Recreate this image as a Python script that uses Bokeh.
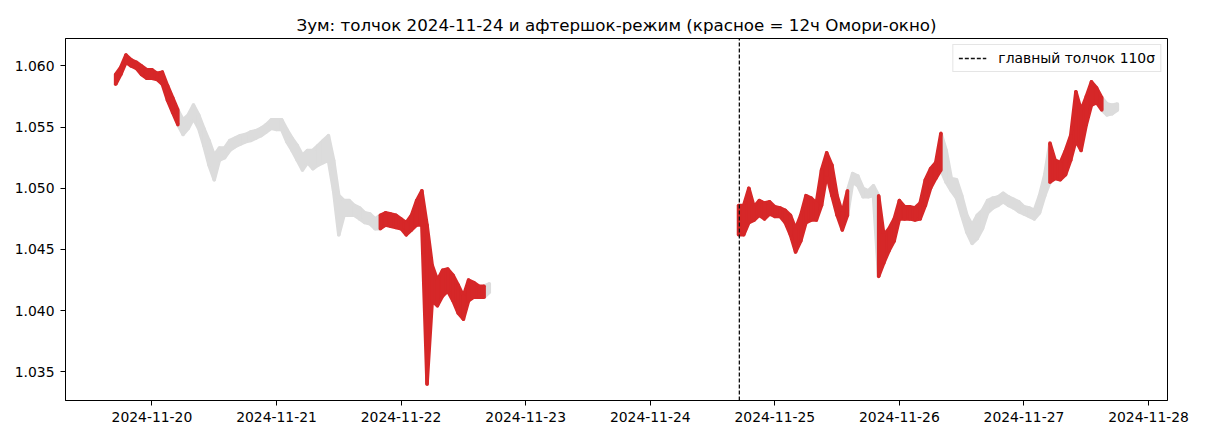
import numpy as np
import pandas as pd
from bokeh.plotting import figure
from bokeh.models import (Range1d, Legend, LegendItem, DatetimeTicker,
                          DaysTicker, DatetimeTickFormatter, FixedTicker,
                          NumeralTickFormatter, ColumnDataSource)
from bokeh.embed import file_html
from bokeh.resources import INLINE

TITLE = 'Зум: толчок 2024-11-24 и афтершок-режим (красное = 12ч Омори-окно)'
SHOCK_LABEL = 'главный толчок 110σ'
SHOCK_TIME = '2024-11-24 17:10'

# hourly high / low of the price, first block (from 2024-11-19 17:00)
seg1_start = '2024-11-19 17:00'
seg1_hi = [1.0593, 1.0599, 1.0609, 1.0605, 1.0603, 1.0600, 1.0597, 1.0597, 1.0594, 1.0595,
           1.0584, 1.0574, 1.0564, 1.0556, 1.0560, 1.0568, 1.0560, 1.0549, 1.0539, 1.0527,
           1.0533, 1.0533, 1.0539, 1.0541, 1.0543, 1.0544, 1.0546, 1.0547, 1.0549, 1.0552,
           1.0556, 1.0556, 1.0556, 1.0548, 1.0541, 1.0535, 1.0527, 1.0531, 1.0531, 1.0535,
           1.0539, 1.0543, 1.0523, 1.0494, 1.0490, 1.0490, 1.0486, 1.0484, 1.0480, 1.0479,
           1.0475, 1.0478, 1.0480, 1.0479, 1.0478, 1.0475, 1.0472, 1.0478, 1.0490, 1.0498,
           1.0470, 1.0437, 1.0425, 1.0433, 1.0434, 1.0429, 1.0421, 1.0412, 1.0425, 1.0423,
           1.0420, 1.0420, 1.0422]
seg1_lo = [1.0585, 1.0593, 1.0603, 1.0600, 1.0598, 1.0593, 1.0590, 1.0590, 1.0589, 1.0585,
           1.0572, 1.0562, 1.0552, 1.0544, 1.0549, 1.0557, 1.0549, 1.0535, 1.0519, 1.0507,
           1.0523, 1.0525, 1.0531, 1.0534, 1.0536, 1.0538, 1.0539, 1.0541, 1.0543, 1.0546,
           1.0549, 1.0548, 1.0548, 1.0538, 1.0531, 1.0523, 1.0515, 1.0521, 1.0516, 1.0519,
           1.0521, 1.0523, 1.0498, 1.0462, 1.0478, 1.0478, 1.0478, 1.0475, 1.0472, 1.0471,
           1.0467, 1.0467, 1.0470, 1.0469, 1.0468, 1.0467, 1.0462, 1.0466, 1.0470, 1.0470,
           1.0340, 1.0408, 1.0404, 1.0412, 1.0416, 1.0408, 1.0398, 1.0393, 1.0408, 1.0411,
           1.0411, 1.0411, 1.0415]
# 1 = inside the 12h Omori window
seg1_red = [1, 1, 1, 1, 1, 1, 1, 1, 1, 1, 1, 1, 1, 0, 0, 0, 0, 0, 0, 0,
            0, 0, 0, 0, 0, 0, 0, 0, 0, 0, 0, 0, 0, 0, 0, 0, 0, 0, 0, 0,
            0, 0, 0, 0, 0, 0, 0, 0, 0, 0, 0, 1, 1, 1, 1, 1, 1, 1, 1, 1,
            1, 1, 1, 1, 1, 1, 1, 1, 1, 1, 1, 1, 0]

# second block (from 2024-11-24 17:00)
seg2_start = '2024-11-24 17:00'
seg2_hi = [1.0486, 1.0486, 1.0500, 1.0485, 1.0490, 1.0488, 1.0489, 1.0485, 1.0484, 1.0482,
           1.0478, 1.0467, 1.0478, 1.0494, 1.0492, 1.0488, 1.0515, 1.0529, 1.0519, 1.0494,
           1.0480, 1.0498, 1.0512, 1.0510, 1.0500, 1.0498, 1.0502, 1.0494, 1.0462, 1.0467,
           1.0475, 1.0490, 1.0485, 1.0485, 1.0484, 1.0488, 1.0507, 1.0516, 1.0521, 1.0545,
           1.0531, 1.0508, 1.0507, 1.0494, 1.0478, 1.0470, 1.0478, 1.0482, 1.0490, 1.0492,
           1.0493, 1.0496, 1.0493, 1.0491, 1.0489, 1.0485, 1.0484, 1.0482, 1.0494, 1.0511,
           1.0537, 1.0523, 1.0521, 1.0531, 1.0543, 1.0579, 1.0564, 1.0575, 1.0587, 1.0582,
           1.0574, 1.0569, 1.0568, 1.0569]
seg2_lo = [1.0462, 1.0462, 1.0472, 1.0474, 1.0478, 1.0475, 1.0479, 1.0477, 1.0477, 1.0472,
           1.0462, 1.0448, 1.0457, 1.0472, 1.0474, 1.0474, 1.0486, 1.0511, 1.0494, 1.0478,
           1.0466, 1.0478, 1.0505, 1.0502, 1.0493, 1.0493, 1.0494, 1.0428, 1.0439, 1.0449,
           1.0457, 1.0475, 1.0475, 1.0475, 1.0474, 1.0475, 1.0486, 1.0500, 1.0508, 1.0515,
           1.0505, 1.0498, 1.0492, 1.0478, 1.0464, 1.0455, 1.0459, 1.0467, 1.0480, 1.0484,
           1.0486, 1.0489, 1.0486, 1.0484, 1.0481, 1.0479, 1.0477, 1.0475, 1.0480, 1.0494,
           1.0505, 1.0508, 1.0507, 1.0511, 1.0523, 1.0539, 1.0531, 1.0552, 1.0568, 1.0570,
           1.0564, 1.0560, 1.0561, 1.0564]
seg2_red = [1, 1, 1, 1, 1, 1, 1, 1, 1, 1, 1, 1, 1, 1, 1, 1, 1, 1, 1, 1,
            1, 1, 0, 0, 0, 0, 0, 1, 1, 1, 1, 1, 1, 1, 1, 1, 1, 1, 1, 1,
            0, 0, 0, 0, 0, 0, 0, 0, 0, 0, 0, 0, 0, 0, 0, 0, 0, 0, 0, 0,
            1, 1, 1, 1, 1, 1, 1, 1, 1, 1, 1, 0, 0, 0]

y_ticks = [1.035, 1.040, 1.045, 1.050, 1.055, 1.060]

RED = '#d62728'
GRAY = '#dcdcdc'


def block(start, hi, lo, red):
    t = pd.date_range(start, periods=len(hi), freq='h')
    df = pd.DataFrame({'t': t, 'hi': hi, 'lo': lo, 'red': red})
    df['color'] = np.where(df['red'] == 1, RED, GRAY)
    return df


blocks = [block(seg1_start, seg1_hi, seg1_lo, seg1_red),
          block(seg2_start, seg2_hi, seg2_lo, seg2_red)]
data = pd.concat(blocks, ignore_index=True)

# matplotlib-like 5% padding around the data
t0, t1 = data['t'].min(), data['t'].max()
pad_t = (t1 - t0) * 0.05
ymin, ymax = data['lo'].min(), data['hi'].max()
pad_y = (ymax - ymin) * 0.05
y_start, y_end = ymin - pad_y, ymax + pad_y

p = figure(width=1202, height=432, x_axis_type='datetime',
           output_backend='svg', toolbar_location=None,
           x_range=Range1d(t0 - pad_t, t1 + pad_t),
           y_range=Range1d(y_start, y_end),
           min_border_left=65, min_border_right=35,
           min_border_top=38, min_border_bottom=32)
p.background_fill_color = 'white'
p.border_fill_color = 'white'
p.outline_line_color = 'black'
p.outline_line_width = 1
p.xgrid.visible = False
p.ygrid.visible = False

p.title.text = TITLE
p.title.align = 'center'
p.title.text_font = 'DejaVu Sans'
p.title.text_font_size = '16.7px'
p.title.text_font_style = 'normal'
p.title.text_color = 'black'
p.title.standoff = 8


def runs(df):
    # consecutive stretches of one regime; grey ones borrow a neighbour on each
    # side so the band stays joined underneath the red windows
    edges = np.flatnonzero(np.diff(df['red'].values)) + 1
    starts = np.r_[0, edges]
    ends = np.r_[edges, len(df)]
    for s, e in zip(starts, ends):
        col = df['color'].iloc[s]
        if col == GRAY:
            s, e = max(s - 1, 0), min(e + 1, len(df))
        yield df.iloc[s:e], col


# grey first, red on top
for want in (GRAY, RED):
    for df in blocks:
        for part, col in runs(df):
            if col != want:
                continue
            p.varea(x=part['t'], y1=part['lo'], y2=part['hi'], fill_color=col)
            p.line(part['t'], part['lo'], line_color=col, line_width=3.5, line_join='round')
            p.line(part['t'], part['hi'], line_color=col, line_width=3.5, line_join='round')
    src = ColumnDataSource(data[data['color'] == want])
    p.segment(x0='t', y0='lo', x1='t', y1='hi', source=src,
              line_color='color', line_width=3.5, line_cap='round')

shock = pd.Timestamp(SHOCK_TIME)
shock_line = p.line(x=[shock, shock], y=[y_start, y_end], line_color='#111111',
                    line_width=1.3, line_dash='4 2')
legend = Legend(items=[LegendItem(label=SHOCK_LABEL, renderers=[shock_line])],
                location='top_right')
legend.label_text_font = 'DejaVu Sans'
legend.label_text_font_size = '13.9px'
legend.label_text_color = 'black'
legend.border_line_color = '#cccccc'
legend.border_line_width = 1
legend.background_fill_alpha = 0.8
legend.glyph_width = 28
legend.glyph_height = 14
legend.padding = 5
legend.spacing = 0
legend.margin = 6
legend.label_standoff = 12
p.add_layout(legend)

p.xaxis.ticker = DatetimeTicker(num_minor_ticks=0,
                                tickers=[DaysTicker(days=list(range(1, 32)))])
p.xaxis.formatter = DatetimeTickFormatter(days='%Y-%m-%d', months='%Y-%m-%d',
                                          hours='%Y-%m-%d')
p.yaxis.ticker = FixedTicker(ticks=y_ticks)
p.yaxis.formatter = NumeralTickFormatter(format='0.000')

for ax in (p.xaxis, p.yaxis):
    ax.axis_line_color = 'black'
    ax.major_tick_line_color = 'black'
    ax.minor_tick_line_color = None
    ax.major_tick_in = 0
    ax.major_tick_out = 5
    ax.major_label_text_font = 'DejaVu Sans'
    ax.major_label_text_font_size = '13.9px'
    ax.major_label_text_color = 'black'
    ax.major_label_standoff = 6

open('out.html', 'w').write(file_html(p, INLINE))
